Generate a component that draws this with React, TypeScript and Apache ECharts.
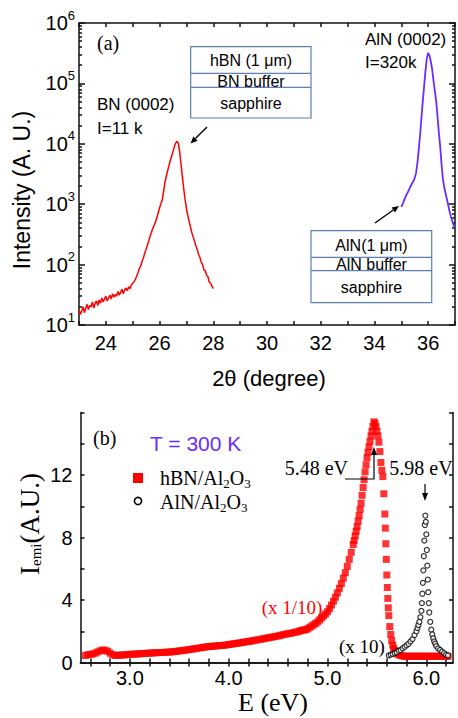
import React, { useEffect, useRef } from "react";
import * as echarts from "echarts";

// ---------- Panel (a): XRD 2θ scans ----------
const bnXrd: [number, number][] = [
  [23.0, 18], [23.05, 15], [23.1, 17], [23.15, 20], [23.2, 16], [23.25, 19], [23.3, 22], [23.35, 18],
  [23.4, 21], [23.45, 20], [23.5, 24], [23.55, 19], [23.6, 23], [23.65, 25], [23.7, 21], [23.75, 26],
  [23.8, 23], [23.85, 28], [23.9, 24], [23.95, 27], [24.0, 30], [24.05, 25], [24.1, 28], [24.15, 31],
  [24.2, 27], [24.25, 33], [24.3, 29], [24.35, 32], [24.4, 30], [24.45, 36], [24.5, 31], [24.55, 35],
  [24.6, 39], [24.65, 33], [24.7, 38], [24.75, 41], [24.8, 37], [24.85, 43], [24.9, 40], [24.95, 46],
  [25.0, 49], [25.05, 52], [25.1, 57], [25.15, 65], [25.2, 74], [25.25, 87], [25.3, 96], [25.35, 114],
  [25.4, 130], [25.45, 157], [25.5, 180], [25.55, 214], [25.6, 248], [25.65, 297], [25.7, 343], [25.75, 402],
  [25.8, 450], [25.85, 510], [25.9, 600], [25.95, 720], [26.0, 870], [26.05, 1020], [26.1, 1200], [26.15, 1650],
  [26.2, 2300], [26.25, 2900], [26.3, 3600], [26.35, 4400], [26.4, 5300], [26.45, 6300], [26.5, 7500], [26.55, 8900],
  [26.6, 10300], [26.65, 11000], [26.7, 10200], [26.75, 7200], [26.8, 4500], [26.85, 2800], [26.9, 1800], [26.95, 1200],
  [27.0, 850], [27.05, 650], [27.1, 520], [27.15, 420], [27.2, 340], [27.25, 285], [27.3, 245], [27.35, 205],
  [27.4, 178], [27.45, 148], [27.5, 132], [27.55, 110], [27.6, 101], [27.65, 82], [27.7, 79], [27.75, 67],
  [27.8, 63], [27.85, 51], [27.9, 49], [27.95, 44], [28.0, 40],
];

const alnXrd: [number, number][] = [
  [35.0, 900], [35.05, 1000], [35.1, 1150], [35.15, 1300], [35.2, 1450], [35.25, 1600], [35.3, 1800], [35.35, 2000],
  [35.4, 2200], [35.45, 2400], [35.5, 2700], [35.55, 3300], [35.6, 4800], [35.65, 8000], [35.7, 14000], [35.75, 27000],
  [35.8, 50000], [35.85, 90000], [35.9, 160000], [35.95, 260000], [36.0, 320000], [36.05, 290000], [36.1, 230000],
  [36.15, 170000], [36.2, 110000], [36.25, 75000], [36.3, 50000], [36.35, 28000], [36.4, 15000], [36.45, 9000],
  [36.5, 4500], [36.55, 2600], [36.6, 1900], [36.65, 1500], [36.7, 1200], [36.75, 950], [36.8, 750], [36.85, 620],
  [36.9, 520], [36.95, 450], [37.0, 400],
];

// ---------- Panel (b): PL emission ----------
const hbnPl: [number, number][] = [
  [2.55, 0.45], [2.575, 0.5], [2.6, 0.52], [2.625, 0.55], [2.65, 0.6], [2.675, 0.68], [2.7, 0.75], [2.725, 0.8],
  [2.75, 0.78], [2.775, 0.72], [2.8, 0.6], [2.825, 0.5], [2.85, 0.45], [2.875, 0.46], [2.9, 0.47], [2.925, 0.48],
  [2.95, 0.5], [2.975, 0.5], [3.0, 0.52], [3.025, 0.53], [3.05, 0.54], [3.075, 0.55], [3.1, 0.56], [3.125, 0.57],
  [3.15, 0.58], [3.175, 0.59], [3.2, 0.6], [3.225, 0.61], [3.25, 0.62], [3.275, 0.63], [3.3, 0.64], [3.325, 0.64],
  [3.35, 0.65], [3.375, 0.66], [3.4, 0.67], [3.425, 0.68], [3.45, 0.7], [3.475, 0.72], [3.5, 0.74], [3.525, 0.76],
  [3.55, 0.78], [3.575, 0.8], [3.6, 0.83], [3.625, 0.85], [3.65, 0.88], [3.675, 0.9], [3.7, 0.93], [3.725, 0.95],
  [3.75, 0.98], [3.775, 1.0], [3.8, 1.02], [3.825, 1.03], [3.85, 1.05], [3.875, 1.06], [3.9, 1.08], [3.925, 1.09],
  [3.95, 1.1], [3.975, 1.12], [4.0, 1.15], [4.025, 1.17], [4.05, 1.2], [4.075, 1.22], [4.1, 1.24], [4.125, 1.27],
  [4.15, 1.3], [4.175, 1.32], [4.2, 1.35], [4.225, 1.37], [4.25, 1.4], [4.275, 1.43], [4.3, 1.46], [4.325, 1.49],
  [4.35, 1.52], [4.375, 1.55], [4.4, 1.58], [4.425, 1.61], [4.45, 1.64], [4.475, 1.67], [4.5, 1.7], [4.525, 1.74],
  [4.55, 1.78], [4.575, 1.81], [4.6, 1.85], [4.625, 1.87], [4.65, 1.9], [4.675, 1.94], [4.7, 1.97], [4.72, 2.02],
  [4.74, 2.06], [4.76, 2.08], [4.78, 2.1], [4.8, 2.16], [4.82, 2.25], [4.84, 2.33], [4.86, 2.42], [4.88, 2.5],
  [4.9, 2.6], [4.92, 2.72], [4.94, 2.85], [4.96, 2.98], [4.98, 3.1], [5.0, 3.25], [5.02, 3.45], [5.04, 3.68],
  [5.06, 3.92], [5.08, 4.18], [5.1, 4.45], [5.12, 4.75], [5.14, 5.05], [5.16, 5.4], [5.18, 5.75], [5.2, 6.15],
  [5.22, 6.6], [5.24, 7.05], [5.26, 7.55], [5.27, 7.8], [5.28, 8.1], [5.29, 8.4], [5.3, 8.7], [5.31, 9.05],
  [5.32, 9.4], [5.33, 9.8], [5.34, 10.2], [5.35, 10.7], [5.36, 11.2], [5.37, 11.7], [5.38, 12.2], [5.39, 12.65],
  [5.4, 13.1], [5.41, 13.45], [5.42, 13.8], [5.43, 14.15], [5.44, 14.5], [5.45, 14.8], [5.46, 15.1], [5.47, 15.4],
  [5.48, 15.3], [5.49, 15.1], [5.5, 14.8], [5.51, 14.5], [5.52, 14.1], [5.53, 13.5], [5.54, 12.8], [5.55, 12.3],
  [5.56, 11.9], [5.57, 10.8], [5.58, 9.5], [5.585, 8.6], [5.59, 7.6], [5.595, 6.6], [5.6, 5.6], [5.605, 4.8],
  [5.61, 4.1], [5.615, 3.5], [5.62, 3.0], [5.63, 2.3], [5.64, 1.8], [5.65, 1.4], [5.66, 1.1], [5.67, 0.9],
  [5.68, 0.77], [5.69, 0.65], [5.7, 0.56], [5.72, 0.5], [5.74, 0.45], [5.76, 0.42], [5.78, 0.4], [5.8, 0.4],
  [5.82, 0.4], [5.84, 0.4], [5.86, 0.4], [5.88, 0.4], [5.9, 0.4], [5.92, 0.4], [5.94, 0.4], [5.96, 0.4],
  [5.98, 0.4], [6.0, 0.4], [6.02, 0.4], [6.04, 0.4], [6.06, 0.4], [6.08, 0.4], [6.1, 0.4], [6.12, 0.4],
  [6.14, 0.4], [6.16, 0.4], [6.18, 0.4], [6.2, 0.4], [6.22, 0.4],
];

const alnPl: [number, number][] = [
  [5.62, 0.45], [5.64, 0.5], [5.66, 0.55], [5.68, 0.6], [5.7, 0.65], [5.72, 0.75], [5.74, 0.8], [5.76, 0.9],
  [5.78, 1.0], [5.8, 1.1], [5.82, 1.2], [5.84, 1.35], [5.86, 1.5], [5.88, 1.75], [5.9, 2.0], [5.91, 2.2],
  [5.92, 2.4], [5.93, 2.6], [5.94, 2.9], [5.95, 3.3], [5.955, 3.8], [5.96, 4.4], [5.965, 5.1], [5.97, 5.9],
  [5.975, 6.8], [5.98, 7.8], [5.985, 8.8], [5.99, 9.4], [5.995, 9.0], [6.0, 8.2], [6.005, 7.2], [6.01, 6.2],
  [6.015, 5.3], [6.02, 4.5], [6.025, 3.8], [6.03, 3.2], [6.04, 2.6], [6.05, 2.1], [6.06, 1.8], [6.07, 1.55],
  [6.08, 1.35], [6.09, 1.2], [6.1, 1.05], [6.12, 0.9], [6.14, 0.8], [6.16, 0.7], [6.18, 0.6], [6.2, 0.5],
  [6.22, 0.45],
];

// tick positions / labels
const logDecades = [1, 2, 3, 4, 5];
const logMinorMultipliers = [2, 3, 4, 5, 6, 7, 8, 9];
const eTickValues = [2.6, 2.8, 3.0, 3.2, 3.4, 3.6, 3.8, 4.0, 4.2, 4.4, 4.6, 4.8, 5.0, 5.2, 5.4, 5.6, 5.8, 6.0, 6.2];
const eLabelValues = [3, 4, 5, 6];

const SANS = "'Liberation Sans', Arial, sans-serif";
const SERIF = "'Liberation Serif', 'Times New Roman', serif";
const AXIS_COLOR = "#111";
const PURPLE = "#6a2cff";
const RED = "#ff0000";
const BOX = "#5d7fb3";

export default function App() {
  const ref = useRef<HTMLDivElement>(null);

  useEffect(() => {
    document.body.style.margin = "0";
    if (!ref.current) return;
    const chart = echarts.init(ref.current, null, { renderer: "svg" });

    const minorLog: number[] = [];
    logDecades.forEach((d) => logMinorMultipliers.forEach((m) => minorLog.push(d + Math.log10(m))));

    const lineStyle = { color: AXIS_COLOR, width: 1.5 };
    const noLabel = { show: false };
    const noSplit = { show: false };

    const text = (t: string, x: number, y: number, size: number, family: string, extra: any = {}) => ({
      type: "text",
      x,
      y,
      style: {
        text: t,
        fontSize: size,
        fontFamily: family,
        fill: extra.fill || "#000",
        align: extra.align || "left",
        verticalAlign: "middle",
        rich: extra.rich,
      },
      rotation: extra.rotation || 0,
      z: 100,
    });

    const seg = (x1: number, y1: number, x2: number, y2: number, color = "#000", w = 1.4) => ({
      type: "line",
      shape: { x1, y1, x2, y2 },
      style: { stroke: color, lineWidth: w },
      z: 100,
    });

    const tri = (pts: number[][]) => ({
      type: "polygon",
      shape: { points: pts },
      style: { fill: "#000" },
      z: 100,
    });

    const subRich = (size: number, subSize: number) => ({
      a: { fontSize: size, fontFamily: SERIF, color: "#000" },
      s: { fontSize: subSize, fontFamily: SERIF, color: "#000", padding: [11, 0, 0, 0] },
    });

    const option: any = {
      animation: false,
      backgroundColor: "#fff",
      grid: [
        { left: 79, top: 23, width: 380, height: 302 },
        { left: 80.5, top: 412.5, width: 372.5, height: 250 },
      ],
      xAxis: [
        {
          type: "value", gridIndex: 0, min: 23, max: 37, interval: 1, position: "bottom",
          axisLine: { lineStyle }, axisTick: { inside: true, length: 4, lineStyle },
          axisLabel: {
            formatter: (v: number) => (v % 2 === 0 && v > 23 && v < 37 ? String(v) : ""),
            fontSize: 20, fontFamily: SANS, color: "#000", margin: 8,
          },
          splitLine: noSplit,
        },
        {
          type: "value", gridIndex: 0, min: 23, max: 37, interval: 1, position: "top",
          axisLine: { lineStyle }, axisTick: { inside: true, length: 4, lineStyle },
          axisLabel: noLabel, splitLine: noSplit,
        },
        {
          type: "value", gridIndex: 1, min: 2.5, max: 6.27, position: "bottom",
          axisLine: { lineStyle }, axisTick: { inside: true, length: 4, lineStyle, customValues: eTickValues },
          axisLabel: {
            customValues: eLabelValues, formatter: (v: number) => v.toFixed(1),
            fontSize: 20, fontFamily: SANS, color: "#000", margin: 5,
          },
          splitLine: noSplit,
        },
        {
          type: "value", gridIndex: 1, min: 2.5, max: 6.27, position: "top",
          axisLine: { lineStyle }, axisTick: { inside: true, length: 4, lineStyle, customValues: eTickValues },
          axisLabel: noLabel, splitLine: noSplit,
        },
      ],
      yAxis: [
        {
          type: "log", gridIndex: 0, min: 10, max: 1000000, logBase: 10, position: "left",
          axisLine: { lineStyle }, axisTick: { inside: true, length: 6, lineStyle },
          axisLabel: {
            formatter: (v: number) => `{b|10}{s|${Math.round(Math.log10(v))}}`,
            margin: 4,
            rich: {
              b: { fontSize: 20, fontFamily: SANS, color: "#000" },
              s: { fontSize: 13, fontFamily: SANS, color: "#000", padding: [0, 0, 16, 0] },
            },
          },
          splitLine: noSplit,
        },
        {
          type: "value", gridIndex: 0, min: 1, max: 6, position: "left",
          axisLine: { show: false }, axisTick: { inside: true, length: 3, lineStyle, customValues: minorLog },
          axisLabel: noLabel, splitLine: noSplit,
        },
        {
          type: "value", gridIndex: 0, min: 1, max: 6, interval: 1, position: "right",
          axisLine: { lineStyle }, axisTick: { inside: true, length: 6, lineStyle },
          axisLabel: noLabel, splitLine: noSplit,
        },
        {
          type: "value", gridIndex: 0, min: 1, max: 6, position: "right",
          axisLine: { show: false }, axisTick: { inside: true, length: 3, lineStyle, customValues: minorLog },
          axisLabel: noLabel, splitLine: noSplit,
        },
        {
          type: "value", gridIndex: 1, min: 0, max: 16, interval: 2, position: "left",
          axisLine: { lineStyle }, axisTick: { inside: true, length: 4, lineStyle },
          axisLabel: {
            formatter: (v: number) => (v % 4 === 0 && v < 16 ? String(v) : ""),
            fontSize: 20, fontFamily: SANS, color: "#000", margin: 8,
          },
          splitLine: noSplit,
        },
        {
          type: "value", gridIndex: 1, min: 0, max: 16, interval: 2, position: "right",
          axisLine: { lineStyle }, axisTick: { inside: true, length: 4, lineStyle },
          axisLabel: noLabel, splitLine: noSplit,
        },
      ],
      series: [
        {
          name: "BN (0002)", type: "line", xAxisIndex: 0, yAxisIndex: 0, data: bnXrd,
          showSymbol: false, symbol: "none", lineStyle: { color: RED, width: 1.5 },
        },
        {
          name: "AlN (0002)", type: "line", xAxisIndex: 0, yAxisIndex: 0, data: alnXrd,
          showSymbol: false, symbol: "none", lineStyle: { color: PURPLE, width: 1.8 },
        },
        {
          name: "hBN/Al2O3", type: "scatter", xAxisIndex: 2, yAxisIndex: 4, data: hbnPl,
          symbol: "rect", symbolSize: 7, itemStyle: { color: RED },
        },
        {
          name: "AlN/Al2O3", type: "scatter", xAxisIndex: 2, yAxisIndex: 4, data: alnPl,
          symbol: "circle", symbolSize: 5, itemStyle: { color: "#fff", borderColor: "#000", borderWidth: 1.2 },
        },
      ],
      graphic: [
        // axis titles
        text("Intensity (A. U.)", 22, 190, 23, SANS, { align: "center", rotation: Math.PI / 2 }),
        text("2θ (degree)", 269, 378, 22, SANS, { align: "center" }),
        text("{a|I}{s|emi}{a|(A.U.)}", 30, 524, 27, SERIF, {
          align: "center", rotation: Math.PI / 2, rich: subRich(27, 15),
        }),
        text("E (eV)", 273, 702, 26, SERIF, { align: "center" }),

        // panel (a)
        text("(a)", 97, 43, 20, SERIF),
        text("BN (0002)", 97, 104, 17, SANS),
        text("I=11 k", 97, 128, 17, SANS),
        text("AlN (0002)", 365, 39, 17, SANS),
        text("I=320k", 365, 62, 17, SANS),
        {
          type: "rect", shape: { x: 190.7, y: 46.7, width: 120.3, height: 71.3 },
          style: { fill: "#fff", stroke: BOX, lineWidth: 1.2 }, z: 90,
        },
        seg(190.7, 73.3, 311, 73.3, BOX, 1.2),
        seg(190.7, 87.3, 311, 87.3, BOX, 1.2),
        text("hBN (1 μm)", 251, 60, 16, SANS, { align: "center" }),
        text("BN buffer", 251, 81, 16, SANS, { align: "center" }),
        text("sapphire", 251, 103, 16, SANS, { align: "center" }),
        {
          type: "rect", shape: { x: 311, y: 230.7, width: 120.7, height: 72 },
          style: { fill: "#fff", stroke: BOX, lineWidth: 1.2 }, z: 90,
        },
        seg(311, 257.3, 431.7, 257.3, BOX, 1.2),
        seg(311, 270.7, 431.7, 270.7, BOX, 1.2),
        text("AlN(1 μm)", 371.5, 245, 16, SANS, { align: "center" }),
        text("AlN buffer", 371.5, 264.5, 16, SANS, { align: "center" }),
        text("sapphire", 371.5, 287.5, 16, SANS, { align: "center" }),
        seg(207, 127, 195.4, 138.6),
        tri([[190.5, 143.5], [197.6, 140.7], [193.3, 136.4]]),
        seg(375, 223, 393.3, 210),
        tri([[399, 206], [395, 212.5], [391.6, 207.6]]),

        // panel (b)
        text("(b)", 93, 438, 20, SERIF),
        text("T = 300 K", 150, 443, 21, SANS, { fill: PURPLE }),
        { type: "rect", shape: { x: 133, y: 473, width: 10, height: 10 }, style: { fill: RED }, z: 100 },
        text("{a|hBN/Al}{s|2}{a|O}{s|3}", 160, 478, 20, SERIF, { rich: subRich(20, 13) }),
        {
          type: "circle", shape: { cx: 138, cy: 501, r: 3.6 },
          style: { fill: "#fff", stroke: "#000", lineWidth: 1.6 }, z: 100,
        },
        text("{a|AlN/Al}{s|2}{a|O}{s|3}", 160, 502, 20, SERIF, { rich: subRich(20, 13) }),
        text("5.48 eV", 348, 468, 20, SERIF, { align: "right" }),
        {
          type: "polyline", shape: { points: [[345, 479], [374, 479], [374, 454]] },
          style: { stroke: "#000", lineWidth: 1.2, fill: "none" }, z: 100,
        },
        tri([[374, 447], [371, 455], [377, 455]]),
        text("5.98 eV", 421, 468, 20, SERIF, { align: "center" }),
        seg(425, 484, 425, 495, "#000", 1.2),
        tri([[425, 501], [422, 493], [428, 493]]),
        text("(x 1/10)", 292, 607, 19, SERIF, { align: "center", fill: RED }),
        text("(x 10)", 362, 646, 19, SERIF, { align: "center" }),
      ],
    };

    chart.setOption(option);
    return () => chart.dispose();
  }, []);

  return <div ref={ref} style={{ width: 458, height: 718 }} />;
}
